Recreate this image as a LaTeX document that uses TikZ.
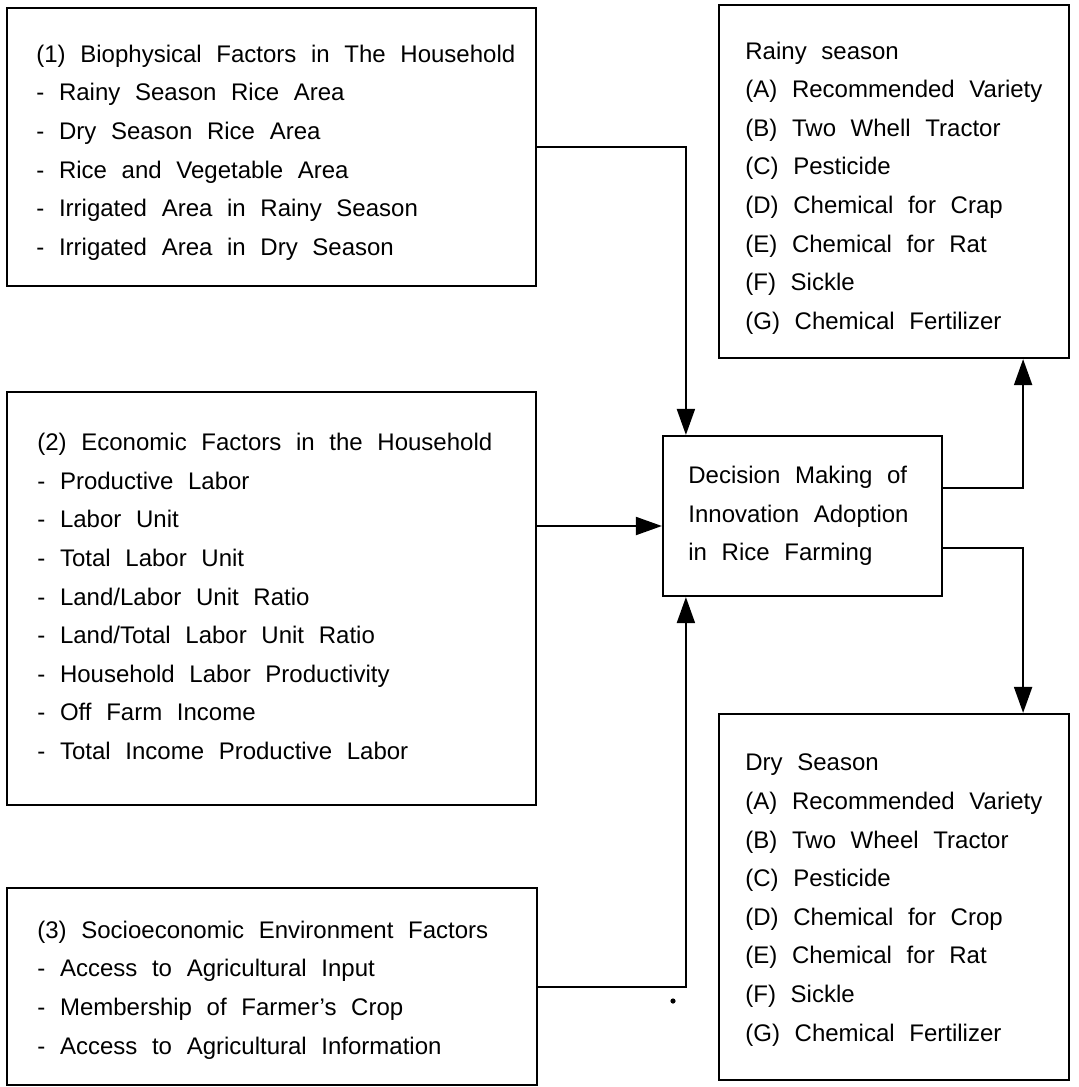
\documentclass[tikz,border=0pt]{standalone}
\usepackage{fontspec}
\setmainfont{Liberation Sans}[WordSpace=2.2]
\usetikzlibrary{arrows.meta}

\tikzset{
  box/.style={draw, line width=1.1pt, inner sep=0pt},
  list/.style={anchor=west, align=left, inner sep=0pt, font=\fontsize{12pt}{19.3pt}\selectfont},
  conn/.style={line width=1pt, -{Triangle[length=13pt,width=9pt]}}
}

\begin{document}
\begin{tikzpicture}[x=0.5pt, y=-0.5pt]
      \useasboundingbox (0,0) rectangle (1078,1087);
      \node[box, minimum width=264.5pt, minimum height=139pt] (bio) at (271.5,147) {};
      \node[box, minimum width=264.5pt, minimum height=206.5pt] (eco) at (271.5,598.5) {};
      \node[box, minimum width=265pt, minimum height=98.5pt] (soc) at (272,986.5) {};
      \node[box, minimum width=139.5pt, minimum height=80pt] (dec) at (802.5,516) {};
      \node[box, minimum width=175pt, minimum height=176.5pt] (rainy) at (894,181.5) {};
      \node[box, minimum width=175pt, minimum height=183pt] (dry) at (894,897) {};
      \node[list] (biotxt) at (36,152.5) {(1) Biophysical Factors in The Household\\- Rainy Season Rice Area\\- Dry Season Rice Area\\- Rice and Vegetable Area\\- Irrigated Area in Rainy Season\\- Irrigated Area in Dry Season};
      \node[list] (ecotxt) at (37,596.5) {(2) Economic Factors in the Household\\- Productive Labor\\- Labor Unit\\- Total Labor Unit\\- Land/Labor Unit Ratio\\- Land/Total Labor Unit Ratio\\- Household Labor Productivity\\- Off Farm Income\\- Total Income Productive Labor};
      \node[list] (soctxt) at (37,990) {(3) Socioeconomic Environment Factors\\- Access to Agricultural Input\\- Membership of Farmer's Crop\\- Access to Agricultural Information};
      \node[list] (dectxt) at (688,516) {Decision Making of\\Innovation Adoption\\in Rice Farming};
      \node[list] (rainytxt) at (745,188) {Rainy season\\(A) Recommended Variety\\(B) Two Whell Tractor\\(C) Pesticide\\(D) Chemical for Crap\\(E) Chemical for Rat\\(F) Sickle\\(G) Chemical Fertilizer};
      \node[list] (drytxt) at (745,900) {Dry Season\\(A) Recommended Variety\\(B) Two Wheel Tractor\\(C) Pesticide\\(D) Chemical for Crop\\(E) Chemical for Rat\\(F) Sickle\\(G) Chemical Fertilizer};
      \coordinate (ecoin) at ([yshift=-5pt]dec.west);
      \draw[conn] (bio.east) -| ([xshift=12pt]dec.north west);
      \draw[conn] (ecoin -| eco.east) -- (ecoin);
      \draw[conn] (soc.east) -| ([xshift=12pt]dec.south west);
      \draw[conn] ([yshift=14pt]dec.east) -| ([xshift=-23.5pt]rainy.south east);
      \draw[conn] ([yshift=-16pt]dec.east) -| ([xshift=-23.5pt]dry.north east);
      \fill (673,1001) circle (1.3pt);
\end{tikzpicture}
\end{document}
